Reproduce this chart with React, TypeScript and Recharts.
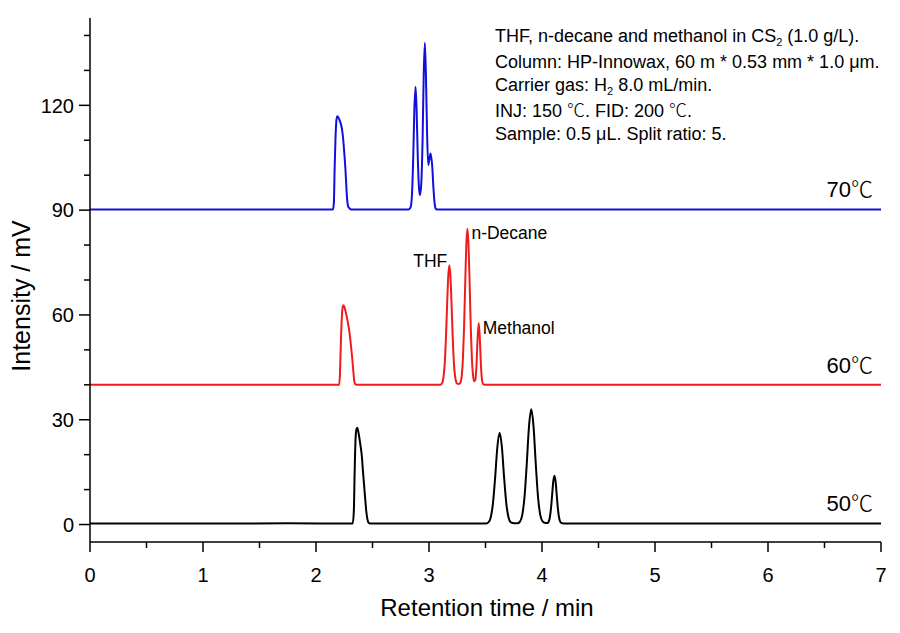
import { LineChart, Line, XAxis, YAxis, ReferenceDot } from 'recharts';

// retention time (min) / intensity (mV)
const timeTicks = [0, 0.5, 1, 1.5, 2, 2.5, 3, 3.5, 4, 4.5, 5, 5.5, 6, 6.5, 7];
const intensityTicks = [0, 10, 20, 30, 40, 50, 60, 70, 80, 90, 100, 110, 120, 130, 140];

const trace50: [number, number][] = [
  [0, 0.3], [1.0, 0.3], [1.75, 0.35], [2.325, 0.3], [2.335, 4], [2.342, 15], [2.35, 24.5], [2.358, 27.3],
  [2.365, 27.7], [2.375, 26.5], [2.385, 24.5], [2.395, 22.3], [2.405, 19.8], [2.415, 15.5], [2.425, 11.5],
  [2.435, 7.5], [2.445, 3.8], [2.455, 1.5], [2.465, 0.5], [2.48, 0.3],
  [3.5, 0.3], [3.525, 0.6], [3.545, 1.9], [3.565, 5.8], [3.585, 13.3], [3.605, 22.2], [3.625, 26.3],
  [3.645, 22.2], [3.665, 13.3], [3.685, 5.8], [3.705, 1.9], [3.725, 0.6], [3.755, 0.35],
  [3.785, 0.4], [3.805, 0.85], [3.825, 2.7], [3.845, 7.8], [3.865, 17.3], [3.885, 28.1], [3.905, 33.0],
  [3.925, 28.1], [3.945, 17.3], [3.965, 7.8], [3.985, 2.7], [4.005, 0.9], [4.025, 0.5], [4.05, 0.45],
  [4.06, 0.9], [4.07, 2.15], [4.08, 4.8], [4.09, 8.6], [4.1, 12.4], [4.11, 14.0], [4.12, 12.4], [4.13, 8.6],
  [4.14, 4.8], [4.15, 2.15], [4.16, 0.9], [4.17, 0.45], [4.19, 0.3], [7, 0.3],
];

const trace60: [number, number][] = [
  [0, 40], [1.75, 40], [2.205, 40], [2.212, 43], [2.22, 52], [2.228, 59], [2.235, 62], [2.241, 62.8],
  [2.25, 62.4], [2.26, 61.3], [2.27, 59.8], [2.28, 58.2], [2.29, 56.3], [2.3, 54], [2.31, 51], [2.32, 47.8],
  [2.33, 44], [2.338, 41.2], [2.345, 40.3], [2.36, 40],
  [3.1, 40], [3.11, 40.2], [3.12, 40.8], [3.13, 42.6], [3.14, 46.5], [3.15, 53.5], [3.16, 62.6], [3.17, 70.9],
  [3.18, 74.2], [3.19, 70.9], [3.2, 62.6], [3.21, 53.5], [3.22, 46.5], [3.23, 42.6], [3.24, 40.9], [3.25, 40.3],
  [3.26, 40.2], [3.27, 40.3], [3.28, 40.8], [3.29, 42.6], [3.3, 47.3], [3.31, 56.1], [3.32, 68.4], [3.33, 79.9],
  [3.34, 84.7], [3.35, 79.9], [3.36, 68.4], [3.37, 56.1], [3.38, 47.3], [3.39, 42.6], [3.4, 41.0], [3.41, 41.4],
  [3.42, 45.4], [3.43, 53.2], [3.44, 57.7], [3.45, 53.2], [3.46, 45.4], [3.47, 41.2], [3.48, 40.2], [3.5, 40],
  [7, 40],
];

const trace70: [number, number][] = [
  [0, 90.2], [2.15, 90.2], [2.158, 92], [2.165, 102], [2.172, 110], [2.18, 115.5], [2.188, 116.9], [2.197, 116.6],
  [2.207, 115.9], [2.217, 115], [2.225, 114], [2.232, 112.7], [2.24, 110.5], [2.25, 106.5], [2.261, 101.4],
  [2.27, 95.8], [2.276, 93], [2.285, 91], [2.297, 90.5], [2.31, 90.2],
  [2.82, 90.2], [2.83, 90.4], [2.84, 91.2], [2.85, 94.9], [2.86, 104.6], [2.87, 118.3], [2.881, 125.3],
  [2.89, 119], [2.9, 106], [2.91, 97], [2.919, 94.3], [2.93, 96.8], [2.943, 109.8], [2.953, 128.4], [2.963, 137.9],
  [2.973, 128.4], [2.983, 112], [2.993, 102.9], [3.003, 104.5], [3.013, 106.2], [3.02, 105], [3.028, 102.9],
  [3.038, 97], [3.048, 92.5], [3.058, 90.5], [3.07, 90.2], [7, 90.2],
];

const peakNames = ['THF', 'n-Decane', 'Methanol'];
const peakTimes = [3.18, 3.34, 3.44];
const peakHeights = [74.2, 84.7, 57.7];

const tempValues = ['50', '60', '70'];
const tempBaselines = [0.3, 40, 90.2];

const FONT = '"Liberation Sans", Arial, sans-serif';
const CJK = '"Noto Sans CJK SC", sans-serif';

const peakLabelOffsets: Record<string, { dx: number; dy: number; anchor: 'start' | 'end' }> = {
  THF: { dx: -2, dy: 2, anchor: 'end' },
  'n-Decane': { dx: 4, dy: 10, anchor: 'start' },
  Methanol: { dx: 4, dy: 11, anchor: 'start' },
};

const toRows = (pts: [number, number][]) => pts.map(([t, v]) => ({ t, v }));

function YTick({ x, y, payload }: { x?: number; y?: number; payload?: { value: number } }) {
  if (x == null || y == null || !payload) return null;
  const major = payload.value % 30 === 0;
  return (
    <g>
      <line x1={x} x2={x - (major ? 11 : 6)} y1={y} y2={y} stroke="#000" strokeWidth={1.5} />
      {major && (
        <text x={x - 16} y={y} dy="0.36em" textAnchor="end" fontSize={20} fontFamily={FONT} fill="#000">
          {payload.value}
        </text>
      )}
    </g>
  );
}

function XTick({ x, y, payload }: { x?: number; y?: number; payload?: { value: number } }) {
  if (x == null || y == null || !payload) return null;
  const major = Number.isInteger(payload.value);
  return (
    <g>
      <line x1={x} x2={x} y1={y} y2={y + (major ? 10 : 6)} stroke="#000" strokeWidth={1.5} />
      {major && (
        <text x={x} y={y + 40} textAnchor="middle" fontSize={20} fontFamily={FONT} fill="#000">
          {payload.value}
        </text>
      )}
    </g>
  );
}

export default function App() {
  const series = [
    { rows: toRows(trace50), color: '#000000' },
    { rows: toRows(trace60), color: '#ee1c1c' },
    { rows: toRows(trace70), color: '#1010dc' },
  ];

  return (
    <div style={{ position: 'absolute', left: 0, top: 0, width: 900, height: 633, background: '#fff' }}>
      <LineChart width={900} height={633} margin={{ top: 18, right: 19, left: 30, bottom: 41 }}>
        <XAxis
          dataKey="t"
          type="number"
          domain={[0, 7]}
          ticks={timeTicks}
          interval={0}
          tickSize={0}
          tickMargin={0}
          tickLine={false}
          tick={<XTick />}
          height={50}
          axisLine={{ stroke: '#000', strokeWidth: 1.5 }}
          allowDataOverflow
        />
        <XAxis
          xAxisId="top"
          orientation="top"
          type="number"
          domain={[0, 7]}
          height={0}
          tick={false}
          tickLine={false}
          axisLine={{ stroke: '#000', strokeWidth: 1.5 }}
        />
        <YAxis
          type="number"
          domain={[-5, 145]}
          ticks={intensityTicks}
          interval={0}
          tickSize={0}
          tickMargin={0}
          tickLine={false}
          tick={<YTick />}
          width={60}
          axisLine={{ stroke: '#000', strokeWidth: 1.5 }}
          allowDataOverflow
        />
        <YAxis
          yAxisId="right"
          orientation="right"
          type="number"
          domain={[-5, 145]}
          width={0}
          tick={false}
          tickLine={false}
          axisLine={{ stroke: '#000', strokeWidth: 1.5 }}
        />
        {series.map((s, i) => (
          <Line
            key={i}
            data={s.rows}
            dataKey="v"
            type="monotone"
            stroke={s.color}
            strokeWidth={2}
            dot={false}
            activeDot={false}
            isAnimationActive={false}
          />
        ))}
        {peakNames.map((name, i) => (
          <ReferenceDot
            key={name}
            x={peakTimes[i]}
            y={peakHeights[i]}
            r={0}
            shape={(p: { cx?: number; cy?: number }) => (
              <text
                x={(p.cx ?? 0) + peakLabelOffsets[name].dx}
                y={(p.cy ?? 0) + peakLabelOffsets[name].dy}
                textAnchor={peakLabelOffsets[name].anchor}
                fontSize={17.5}
                fontFamily={FONT}
                fill="#000"
              >
                {name}
              </text>
            )}
          />
        ))}
        {tempValues.map((temp, i) => (
          <ReferenceDot
            key={temp}
            x={7}
            y={tempBaselines[i]}
            r={0}
            shape={(p: { cx?: number; cy?: number }) => (
              <text
                x={(p.cx ?? 0) - 8}
                y={(p.cy ?? 0) - 12}
                textAnchor="end"
                fontSize={22}
                fontFamily={FONT}
                fill="#000"
              >
                {temp}
                <tspan fontFamily={CJK} fontWeight={300}>℃</tspan>
              </text>
            )}
          />
        ))}
      </LineChart>
      <svg
        width={900}
        height={633}
        style={{ position: 'absolute', left: 0, top: 0, pointerEvents: 'none' }}
        fontFamily={FONT}
      >
        <text x={21} y={296} transform="rotate(-90 21 296)" textAnchor="middle" dominantBaseline="central" fontSize={25}>
          Intensity / mV
        </text>
        <text x={487} y={616} textAnchor="middle" fontSize={24}>
          Retention time / min
        </text>
        <g fontSize={18}>
          <text x={495} y={42}>
            THF, n-decane and methanol in CS<tspan dy={4} fontSize={11}>2</tspan>
            <tspan dy={-4}> (1.0 g/L).</tspan>
          </text>
          <text x={495} y={68}>Column: HP-Innowax, 60 m * 0.53 mm * 1.0 μm.</text>
          <text x={495} y={91}>
            Carrier gas: H<tspan dy={4} fontSize={11}>2</tspan>
            <tspan dy={-4}> 8.0 mL/min.</tspan>
          </text>
          <text x={495} y={117}>
            INJ: 150 <tspan fontFamily={CJK} fontWeight={300}>℃</tspan>. FID: 200 <tspan fontFamily={CJK} fontWeight={300}>℃</tspan>.
          </text>
          <text x={495} y={140}>Sample: 0.5 μL. Split ratio: 5.</text>
        </g>
      </svg>
    </div>
  );
}
